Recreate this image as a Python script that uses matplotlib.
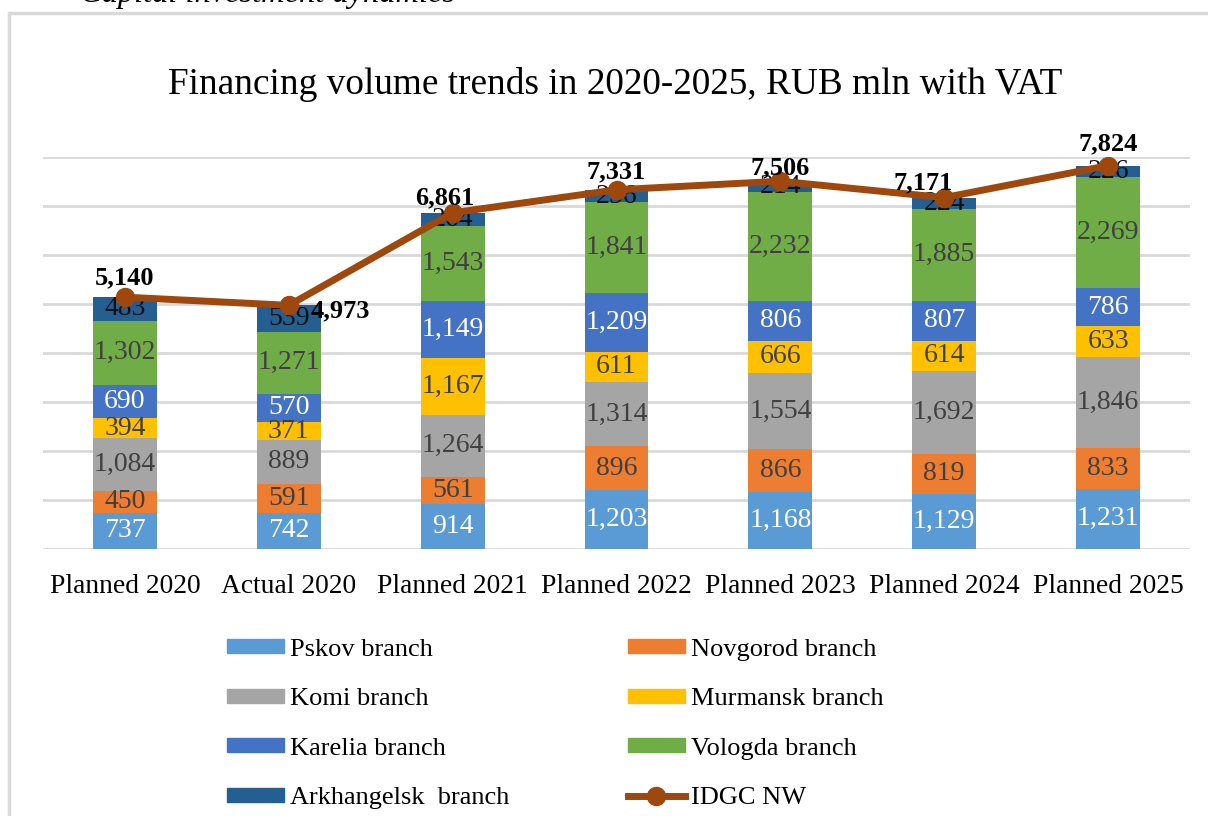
import matplotlib.pyplot as plt
import numpy as np
from matplotlib.lines import Line2D
from matplotlib.patches import Rectangle

categories = ["Planned 2020", "Actual 2020", "Planned 2021", "Planned 2022",
              "Planned 2023", "Planned 2024", "Planned 2025"]
pskov = [737, 742, 914, 1203, 1168, 1129, 1231]
novgorod = [450, 591, 561, 896, 866, 819, 833]
komi = [1084, 889, 1264, 1314, 1554, 1692, 1846]
murmansk = [394, 371, 1167, 611, 666, 614, 633]
karelia = [690, 570, 1149, 1209, 806, 807, 786]
vologda = [1302, 1271, 1543, 1841, 2232, 1885, 2269]
arkhangelsk = [483, 539, 264, 256, 214, 224, 226]
idgc_nw = [5140, 4973, 6861, 7331, 7506, 7171, 7824]

series_names = ["Pskov branch", "Novgorod branch", "Komi branch", "Murmansk branch",
                "Karelia branch", "Vologda branch", "Arkhangelsk  branch"]
series = [pskov, novgorod, komi, murmansk, karelia, vologda, arkhangelsk]
colors = ["#5B9BD5", "#ED7D31", "#A5A5A5", "#FFC000", "#4472C4", "#70AD47", "#255E91"]
label_colors = ["white", "#404040", "#404040", "#404040", "white", "#404040", "#111111"]
line_color = "#9E480E"

# offsets (points) for the total labels
total_offsets = [(0, 14), (37, -4), (-6, 11), (0, 13), (0, 10), (-15, 11), (0, 16)]

plt.rcParams['font.family'] = ['Liberation Serif', 'DejaVu Serif']

fig = plt.figure(figsize=(12.08, 8.16), dpi=100)
ax = fig.add_axes([43 / 1208, 1 - 549 / 816, 1147 / 1208, 392 / 816])

x = np.arange(len(categories))
bottom = np.zeros(len(categories))
for vals, c, lc in zip(series, colors, label_colors):
    vals = np.array(vals, dtype=float)
    ax.bar(x, vals, width=0.39, bottom=bottom, color=c, zorder=2)
    for xi, b, v in zip(x, bottom, vals):
        ax.text(xi, b + v / 2, f"{int(v):,}", ha="center", va="center",
                fontsize=20, color=lc, zorder=3)
    bottom += vals

ax.plot(x, idgc_nw, color=line_color, lw=5, marker="o", ms=13, zorder=4)
for xi, t, off in zip(x, idgc_nw, total_offsets):
    ax.annotate(f"{t:,}", (xi, t), xytext=off, textcoords="offset points",
                ha="center", va="center", fontsize=19, fontweight="bold",
                color="black", zorder=5)

ax.set_xlim(-0.5, 6.5)
ax.set_ylim(0, 8000)
ax.set_yticks(np.arange(0, 8001, 1000))
ax.yaxis.grid(True, color="#D9D9D9", lw=2, zorder=0)
ax.tick_params(axis="y", left=False, labelleft=False)
ax.tick_params(axis="x", length=0, pad=18, labelsize=19.8)
ax.set_xticks(x)
ax.set_xticklabels(categories)
for s in ax.spines.values():
    s.set_visible(False)

fig.text(615 / 1208, 1 - 85 / 816, "Financing volume trends in 2020-2025, RUB mln with VAT",
         ha="center", va="center", fontsize=26.8)

# cropped caption at the very top
fig.text(80 / 1208, 1 - 2 / 816, "Capital investment dynamics", ha="left", va="baseline",
         fontsize=23.4, style="italic")

# outer frame
fig.patches.append(Rectangle((9 / 1208, -0.1), 1.2, 1 - 13 / 816 + 0.1,
                             transform=fig.transFigure, fill=False,
                             edgecolor="#D9D9D9", lw=2.5))

handles = [Rectangle((0, 0), 1, 1, color=c) for c in colors]
handles.append(Line2D([], [], color=line_color, lw=5, marker="o", ms=13))
labels = series_names + ["IDGC NW"]
order = [0, 2, 4, 6, 1, 3, 5, 7]
leg = fig.legend([handles[i] for i in order], [labels[i] for i in order],
                 loc="upper left", bbox_to_anchor=(203 / 1208, 1 - 615 / 816),
                 ncol=2, frameon=False, fontsize=19, handlelength=2.16,
                 handleheight=0.45, handletextpad=0.23, columnspacing=4.5,
                 labelspacing=1.04)

fig.savefig("out.png", dpi=100)
